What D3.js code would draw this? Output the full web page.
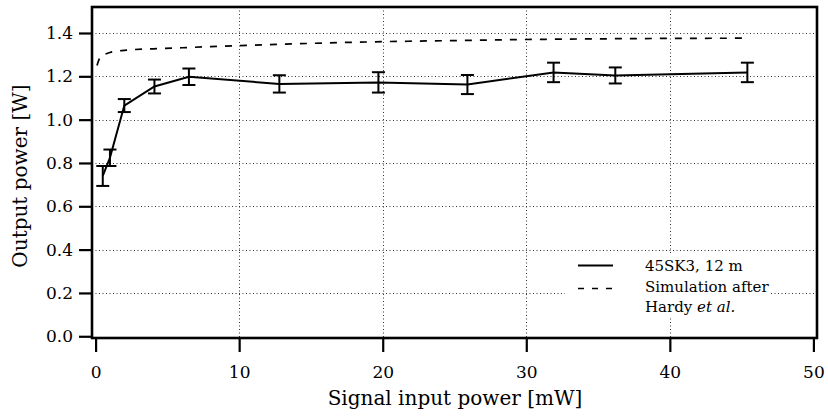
<!DOCTYPE html>
<html>
<head>
<meta charset="utf-8">
<script src="https://cdn.jsdelivr.net/npm/d3@7"></script>
<style>
  html, body { margin: 0; padding: 0; background: #fff; }
  svg { display: block; font-family: "DejaVu Serif", serif; }
</style>
</head>
<body>
<svg id="chart" width="828" height="417"></svg>
<script>
// Measured data: 45SK3, 12 m
const inputPower = [0.5, 1.0, 2.0, 4.1, 6.5, 12.8, 19.7, 25.9, 31.9, 36.2, 45.4];
const outputPower = [0.74, 0.824, 1.065, 1.153, 1.198, 1.165, 1.172, 1.162, 1.218, 1.204, 1.218];
const outputError = [0.046, 0.038, 0.03, 0.032, 0.038, 0.04, 0.047, 0.044, 0.045, 0.037, 0.045];

// Simulation after Hardy et al.
const simInput = [0.1, 0.3, 0.6, 1.0, 2, 4, 6, 8, 10, 13, 16, 20, 25, 30, 35, 40, 45.3];
const simOutput = [1.25, 1.285, 1.30, 1.31, 1.32, 1.327, 1.332, 1.337, 1.342, 1.348, 1.354, 1.36, 1.365, 1.37, 1.373, 1.375, 1.376];

const xTicks = [0, 10, 20, 30, 40, 50];
const yTicks = [0.0, 0.2, 0.4, 0.6, 0.8, 1.0, 1.2, 1.4];
const xGrid = [10, 20, 30, 40];
const yGrid = [0.2, 0.4, 0.6, 0.8, 1.0, 1.2, 1.4];

const xTitle = "Signal input power [mW]";
const yTitle = "Output power [W]";
const legendMeasured = "45SK3, 12 m";
const legendSim1 = "Simulation after";
const legendSim2a = "Hardy ";
const legendSim2b = "et al.";

const svg = d3.select("#chart");
const W = 828, H = 417;
const m = { left: 92, top: 7, right: 11, bottom: 79 };
const pw = W - m.left - m.right, ph = H - m.top - m.bottom;

const x = d3.scaleLinear().domain([-0.25, 50.25]).range([m.left, m.left + pw]);
const y = d3.scaleLinear().domain([-0.008, 1.52]).range([m.top + ph, m.top]);

svg.append("rect").attr("width", W).attr("height", H).attr("fill", "#fff");

// grid
const grid = svg.append("g").attr("stroke", "#333").attr("stroke-width", 1)
  .attr("stroke-dasharray", "1,2.5").attr("fill", "none");
grid.selectAll("line.v").data(xGrid).join("line").attr("class", "v")
  .attr("x1", d => Math.round(x(d)) + 0.5).attr("x2", d => Math.round(x(d)) + 0.5)
  .attr("y1", m.top).attr("y2", m.top + ph);
grid.selectAll("line.h").data(yGrid).join("line").attr("class", "h")
  .attr("y1", d => Math.round(y(d)) + 0.5).attr("y2", d => Math.round(y(d)) + 0.5)
  .attr("x1", m.left).attr("x2", m.left + pw);

// axes
const xAxis = svg.append("g").attr("transform", `translate(0,${m.top + ph})`)
  .call(d3.axisBottom(x).tickValues(xTicks).tickFormat(d3.format("d")).tickSize(14).tickPadding(14));
const yAxis = svg.append("g").attr("transform", `translate(${m.left},0)`)
  .call(d3.axisLeft(y).tickValues(yTicks).tickFormat(d3.format(".1f")).tickSize(13).tickPadding(6));
[xAxis, yAxis].forEach(a => {
  a.attr("font-family", null);
  a.select(".domain").remove();
  a.selectAll(".tick line").attr("stroke", "#000").attr("stroke-width", 2.2);
  a.selectAll(".tick text").attr("fill", "#000").attr("font-size", 17)
    .style("font-family", "'DejaVu Serif', serif");
});

// frame
svg.append("rect").attr("x", m.left).attr("y", m.top).attr("width", pw).attr("height", ph)
  .attr("fill", "none").attr("stroke", "#000").attr("stroke-width", 2.6);

// simulation dashed line
const simData = simInput.map((d, i) => [d, simOutput[i]]);
svg.append("path").datum(simData)
  .attr("d", d3.line().x(d => x(d[0])).y(d => y(d[1])).curve(d3.curveMonotoneX))
  .attr("fill", "none").attr("stroke", "#000").attr("stroke-width", 1.7)
  .attr("stroke-dasharray", "7,8");

// measured line
const meas = inputPower.map((d, i) => ({ x: d, y: outputPower[i], e: outputError[i] }));
svg.append("path").datum(meas)
  .attr("d", d3.line().x(d => x(d.x)).y(d => y(d.y)))
  .attr("fill", "none").attr("stroke", "#000").attr("stroke-width", 2);

// error bars
const eb = svg.append("g").attr("stroke", "#000").attr("stroke-width", 2);
const capW = 6.5;
eb.selectAll("line.v").data(meas).join("line").attr("class", "v")
  .attr("x1", d => x(d.x)).attr("x2", d => x(d.x))
  .attr("y1", d => y(d.y - d.e)).attr("y2", d => y(d.y + d.e));
eb.selectAll("line.t").data(meas).join("line").attr("class", "t")
  .attr("x1", d => x(d.x) - capW).attr("x2", d => x(d.x) + capW)
  .attr("y1", d => y(d.y + d.e)).attr("y2", d => y(d.y + d.e));
eb.selectAll("line.b").data(meas).join("line").attr("class", "b")
  .attr("x1", d => x(d.x) - capW).attr("x2", d => x(d.x) + capW)
  .attr("y1", d => y(d.y - d.e)).attr("y2", d => y(d.y - d.e));

// legend
const lg = svg.append("g");
const lx0 = 578, lx1 = 613, tx = 645;
const bl = [270.5, 292, 311.5];
lg.append("rect").attr("x", 565).attr("y", 255).attr("width", 206).attr("height", 61).attr("fill", "#fff");
lg.append("line").attr("x1", lx0).attr("x2", lx1).attr("y1", 265.5).attr("y2", 265.5)
  .attr("stroke", "#000").attr("stroke-width", 2);
lg.append("line").attr("x1", lx0).attr("x2", lx1).attr("y1", 288.5).attr("y2", 288.5)
  .attr("stroke", "#000").attr("stroke-width", 1.7).attr("stroke-dasharray", "6,8");
const lt = lg.append("g").attr("font-size", 15).attr("fill", "#000");
lt.append("text").attr("x", tx).attr("y", bl[0]).text(legendMeasured);
lt.append("text").attr("x", tx).attr("y", bl[1]).text(legendSim1);
const t3 = lt.append("text").attr("x", tx).attr("y", bl[2]);
t3.append("tspan").text(legendSim2a);
t3.append("tspan").attr("font-style", "italic").text(legendSim2b);

// axis titles
svg.append("text").attr("x", 455).attr("y", 405).attr("text-anchor", "middle")
  .attr("font-size", 20).attr("fill", "#000").text(xTitle);
svg.append("text").attr("transform", "translate(27,176) rotate(-90)").attr("text-anchor", "middle")
  .attr("font-size", 20).attr("fill", "#000").text(yTitle);
</script>
</body>
</html>
